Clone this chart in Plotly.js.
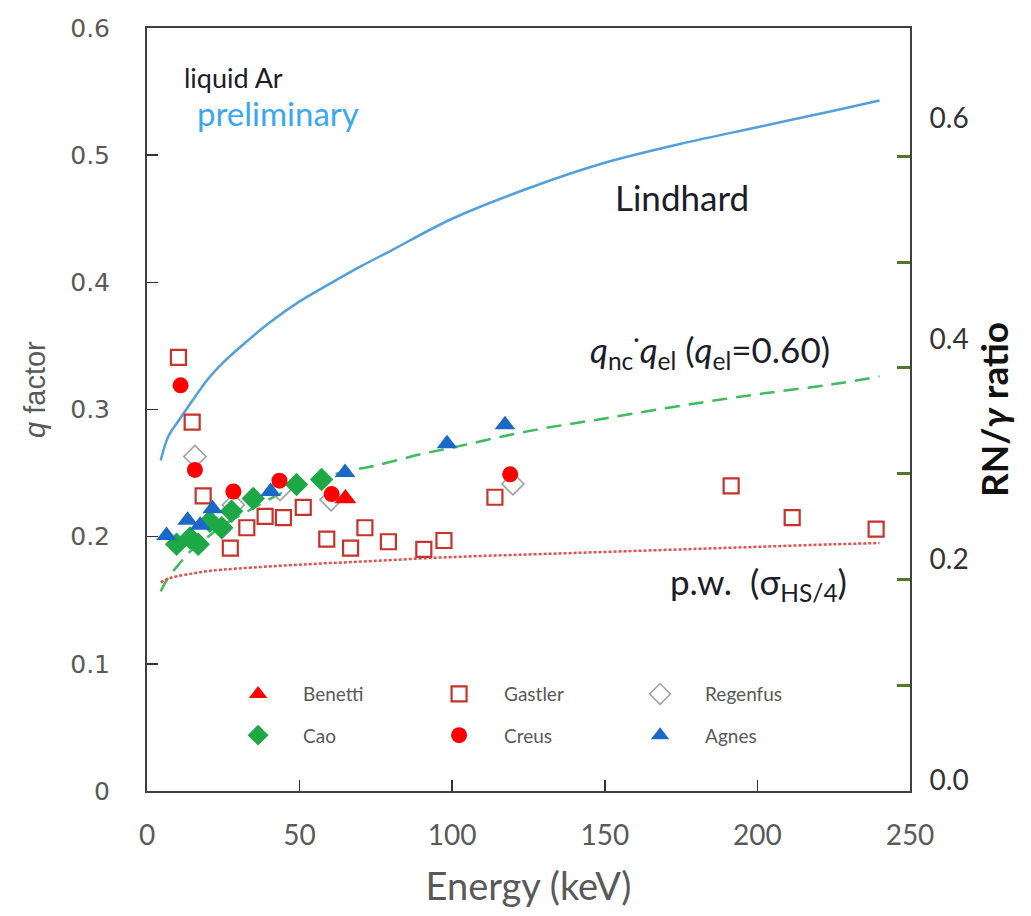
<!DOCTYPE html>
<html>
<head>
<meta charset="utf-8">
<script src="https://cdn.plot.ly/plotly-3.0.1.min.js"></script>
<style>html,body{margin:0;padding:0;background:#fff;}#chart{width:1031px;height:916px;}</style>
</head>
<body>
<div id="chart"></div>
<script>
// ---- data ----
const lindE = [4.5, 7, 10, 14, 20, 25, 30, 40, 50, 60, 70, 80, 100, 125, 150, 175, 200, 225, 240];
const lindQ = [0.260, 0.279, 0.290, 0.304, 0.324, 0.337, 0.348, 0.368, 0.385, 0.399, 0.4125, 0.425, 0.450, 0.474, 0.494, 0.509, 0.522, 0.535, 0.543];

const ncE = [4.5, 7, 10, 14, 20, 25, 33, 43, 52, 63, 75, 90, 100, 125, 150, 175, 200, 225, 240];
const ncQ = [0.157, 0.168, 0.177, 0.188, 0.200, 0.209, 0.220, 0.233, 0.242, 0.250, 0.256, 0.265, 0.270, 0.283, 0.293, 0.303, 0.312, 0.320, 0.326];

const pwE = [4.5, 7, 10, 15, 20, 30, 50, 75, 100, 125, 150, 175, 200, 225, 240];
const pwQ = [0.164, 0.167, 0.169, 0.171, 0.173, 0.175, 0.178, 0.181, 0.184, 0.186, 0.188, 0.190, 0.192, 0.194, 0.195];

const benettiE = [65.0];
const benettiQ = [0.230];

const gastlerE = [10.3, 14.8, 18.4, 27.3, 32.7, 38.7, 44.7, 51.2, 58.9, 66.7, 71.4, 79.1, 90.7, 97.3, 114.0, 191.4, 211.4, 238.9];
const gastlerQ = [0.341, 0.290, 0.232, 0.191, 0.207, 0.216, 0.215, 0.223, 0.198, 0.191, 0.207, 0.196, 0.190, 0.197, 0.231, 0.240, 0.215, 0.206];

const regenfusE = [15.7, 28.3, 43.6, 60.3, 119.9];
const regenfusQ = [0.263, 0.225, 0.237, 0.229, 0.2415];

const caoE = [9.7, 14.1, 16.8, 20.6, 24.5, 27.7, 34.8, 49.0, 57.2];
const caoQ = [0.194, 0.199, 0.194, 0.212, 0.207, 0.220, 0.230, 0.241, 0.245];

const creusE = [11.0, 15.7, 28.3, 43.4, 60.5, 119.0];
const creusQ = [0.319, 0.2525, 0.2355, 0.244, 0.2335, 0.249];

const agnesE = [6.4, 13.3, 17.4, 21.5, 40.5, 64.9, 98.3, 117.3];
const agnesQ = [0.201, 0.213, 0.209, 0.222, 0.2355, 0.2505, 0.273, 0.288];

const xTicks = [0, 50, 100, 150, 200, 250];
const yTicks = [0, 0.1, 0.2, 0.3, 0.4, 0.5, 0.6];
const y2Ticks = [0, 0.2, 0.4, 0.6];
const y2TickText = ['0.0', '0.2', '0.4', '0.6'];
const y3Ticks = [0.1, 0.2, 0.3, 0.4, 0.5, 0.6];

// ---- traces ----
const FONT = 'Lato, "Open Sans", "DejaVu Sans", sans-serif';
const GRAY = '#595959';

const traces = [
  {x: lindE, y: lindQ, type: 'scatter', mode: 'lines', showlegend: false, hoverinfo: 'skip',
   line: {color: '#529fde', width: 2.5, shape: 'spline'}},
  {x: ncE, y: ncQ, type: 'scatter', mode: 'lines', showlegend: false, hoverinfo: 'skip',
   line: {color: '#3dbb5e', width: 2.5, dash: '15px,9px', shape: 'spline'}},
  {x: pwE, y: pwQ, type: 'scatter', mode: 'lines', showlegend: false, hoverinfo: 'skip',
   line: {color: '#e0504f', width: 2.5, dash: '3px,2px', shape: 'spline'}},
  {x: gastlerE, y: gastlerQ, type: 'scatter', mode: 'markers', name: 'Gastler', legend: 'legend', legendrank: 2,
   marker: {symbol: 'square-open', size: 15, color: '#c8322c', line: {width: 2.2, color: '#c8322c'}}},
  {x: regenfusE, y: regenfusQ, type: 'scatter', mode: 'markers', name: 'Regenfus', legend: 'legend', legendrank: 3,
   marker: {symbol: 'diamond-open', size: 17, color: '#a0a0a0', line: {width: 1.6, color: '#a0a0a0'}}},
  {x: caoE, y: caoQ, type: 'scatter', mode: 'markers', name: 'Cao', legend: 'legend2', legendrank: 1,
   marker: {symbol: 'diamond', size: 18, color: '#1ea845'}},
  {x: creusE, y: creusQ, type: 'scatter', mode: 'markers', name: 'Creus', legend: 'legend2', legendrank: 2,
   marker: {symbol: 'circle', size: 16, color: '#ff0000'}},
  {x: benettiE, y: benettiQ, type: 'scatter', mode: 'markers', name: 'Benetti', legend: 'legend', legendrank: 1,
   marker: {symbol: 'triangle-up', size: 19, color: '#ff0000'}},
  {x: agnesE, y: agnesQ, type: 'scatter', mode: 'markers', name: 'Agnes', legend: 'legend2', legendrank: 3,
   marker: {symbol: 'triangle-up', size: 18, color: '#1b69c6'}},
  // carriers so the right-hand axes get drawn
  {x: [null], y: [null], type: 'scatter', mode: 'markers', yaxis: 'y2', showlegend: false, hoverinfo: 'skip'},
  {x: [null], y: [null], type: 'scatter', mode: 'markers', yaxis: 'y3', showlegend: false, hoverinfo: 'skip'}
];

const legendCommon = {
  orientation: 'h', bgcolor: 'rgba(0,0,0,0)', borderwidth: 0,
  font: {family: FONT, size: 19, color: GRAY},
  itemwidth: 80, entrywidth: 106, entrywidthmode: 'pixels',
  xanchor: 'left', yanchor: 'middle', traceorder: 'normal'
};

const layout = {
  width: 1031, height: 916,
  margin: {l: 147, r: 121, t: 28, b: 125},
  paper_bgcolor: '#fff', plot_bgcolor: '#fff',
  font: {family: FONT, color: GRAY},
  showlegend: true,
  legend: Object.assign({}, legendCommon, {x: 0.0866, y: 0.127}),
  legend2: Object.assign({}, legendCommon, {x: 0.0866, y: 0.073}),
  xaxis: {
    range: [0, 250], tickvals: xTicks, ticks: 'inside', ticklen: 11, tickwidth: 1.5, tickcolor: '#333',
    showline: true, linecolor: '#404040', linewidth: 2, mirror: true, showgrid: false, zeroline: false,
    tickfont: {family: FONT, size: 28, color: GRAY}, ticklabelstandoff: 18,
    title: {text: 'Energy (keV)', font: {family: FONT, size: 38, color: GRAY}, standoff: 24}
  },
  yaxis: {
    range: [0, 0.6], tickvals: yTicks, ticks: 'inside', ticklen: 11, tickwidth: 1.5, tickcolor: '#333',
    showline: true, linecolor: '#404040', linewidth: 2, showgrid: false, zeroline: false,
    tickfont: {family: '"DejaVu Sans", Verdana, sans-serif', size: 25, color: GRAY}, ticklabelstandoff: 30
  },
  yaxis2: {
    overlaying: 'y', side: 'right', anchor: 'x',
    range: [-0.01, 0.682], tickvals: y2Ticks, ticktext: y2TickText, ticks: '',
    showline: true, linecolor: '#404040', linewidth: 2, showgrid: false, zeroline: false,
    tickfont: {family: FONT, size: 28, color: '#333'}, ticklabelstandoff: 12,
    title: {text: '<b>RN/<i>γ</i> ratio</b>', font: {family: FONT, size: 37, color: '#111'}, standoff: 14}
  },
  yaxis3: {
    overlaying: 'y', side: 'right', anchor: 'x',
    range: [0, 0.7212], tickvals: y3Ticks, ticks: 'inside', ticklen: 13, tickwidth: 3, tickcolor: '#4f7a28',
    showticklabels: false, showline: false, showgrid: false, zeroline: false
  },
  annotations: [
    {x: 35, y: 390, xref: 'paper', yref: 'paper', text: '<i>q</i> factor', showarrow: false, textangle: -90,
     xanchor: 'center', yanchor: 'middle',
     font: {family: '"Liberation Sans", Arial, sans-serif', size: 29, color: GRAY}},
    {x: 11.5, y: 0.561, xref: 'x', yref: 'y', text: 'liquid Ar', showarrow: false, xanchor: 'left', yanchor: 'middle',
     font: {family: FONT, size: 27, color: '#1c1c2a'}},
    {x: 15.7, y: 0.533, xref: 'x', yref: 'y', text: 'preliminary', showarrow: false, xanchor: 'left', yanchor: 'middle',
     font: {family: FONT, size: 33, color: '#3aa8f0'}},
    {x: 152.7, y: 0.467, xref: 'x', yref: 'y', text: 'Lindhard', showarrow: false, xanchor: 'left', yanchor: 'middle',
     font: {family: FONT, size: 35, color: '#1c1c2a'}},
    {x: 144.5, y: 0.347, xref: 'x', yref: 'y', text: '<i>q</i><sub>nc</sub><sup>·</sup><i>q</i><sub>el</sub> (<i>q</i><sub>el</sub>=0.60)', showarrow: false, xanchor: 'left', yanchor: 'middle',
     font: {family: FONT, size: 35, color: '#1c1c2a'}},
    {x: 170.7, y: 0.1635, xref: 'x', yref: 'y', text: 'p.w.  (σ<sub>HS/4</sub>)', showarrow: false, xanchor: 'left', yanchor: 'middle',
     font: {family: FONT, size: 35, color: '#1c1c2a'}}
  ]
};
// the q-factor title is placed in pixels: convert to paper fractions
(function () {
  const a = layout.annotations[0];
  const w = layout.width - layout.margin.l - layout.margin.r;
  const h = layout.height - layout.margin.t - layout.margin.b;
  a.x = (a.x - layout.margin.l) / w;
  a.y = (layout.height - layout.margin.b - a.y) / h;
})();

Plotly.newPlot('chart', traces, layout, {displayModeBar: false, staticPlot: true});
</script>
</body>
</html>
